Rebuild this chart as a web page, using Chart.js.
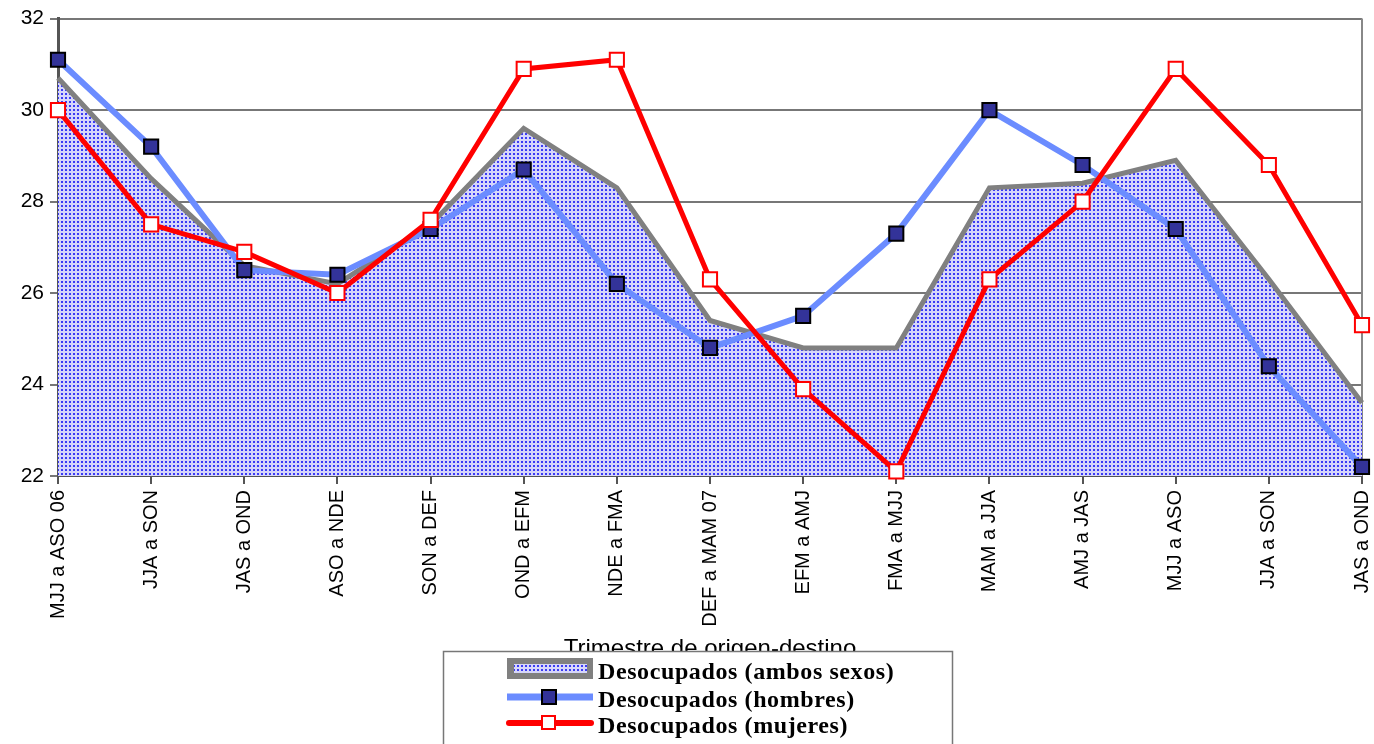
<!DOCTYPE html>
<html>
<head>
<meta charset="utf-8">
<script src="https://cdn.jsdelivr.net/npm/chart.js@4/dist/chart.umd.min.js"></script>
<style>
  html, body { margin: 0; padding: 0; background: #fff; }
  #wrap { width: 1374px; height: 744px; position: relative; }
</style>
</head>
<body>
<div id="wrap"><canvas id="chart-desocupados"></canvas></div>
<script>
'use strict';

const categories = [
  'MJJ a ASO 06', 'JJA a SON', 'JAS a OND', 'ASO a NDE', 'SON a DEF',
  'OND a EFM', 'NDE a FMA', 'DEF a MAM 07', 'EFM a AMJ', 'FMA a MJJ',
  'MAM a JJA', 'AMJ a JAS', 'MJJ a ASO', 'JJA a SON', 'JAS a OND'
];
const ambosSexos = [30.7, 28.5, 26.6, 26.2, 27.5, 29.6, 28.3, 25.4, 24.8, 24.8, 28.3, 28.4, 28.9, 26.3, 23.6];
const hombres    = [31.1, 29.2, 26.5, 26.4, 27.4, 28.7, 26.2, 24.8, 25.5, 27.3, 30.0, 28.8, 27.4, 24.4, 22.2];
const mujeres    = [30.0, 27.5, 26.9, 26.0, 27.6, 30.9, 31.1, 26.3, 23.9, 22.1, 26.3, 28.0, 30.9, 28.8, 25.3];
const yTicks     = [22, 24, 26, 28, 30, 32];

const seriesNames = ['Desocupados (ambos sexos)', 'Desocupados (hombres)', 'Desocupados (mujeres)'];
const axisTitle = 'Trimestre de origen-destino';

const SANS = "'Liberation Sans', Arial, sans-serif";

// dotted blue fill like the Excel pattern
function makePattern() {
  const c = document.createElement('canvas');
  c.width = 4; c.height = 4;
  const g = c.getContext('2d');
  g.fillStyle = '#d6d6fb';
  g.fillRect(0, 0, 4, 4);
  g.fillStyle = '#3b3bf5';
  g.fillRect(1, 1, 2, 2);
  return g.createPattern(c, 'repeat');
}
const dotPattern = makePattern();

const frameBox = {
  id: 'frameBox',
  beforeDatasetsDraw(chart) {
    const { ctx, chartArea: a } = chart;
    ctx.save();
    ctx.strokeStyle = '#888';
    ctx.lineWidth = 2;
    ctx.beginPath();
    ctx.moveTo(a.right, a.top);
    ctx.lineTo(a.right, a.bottom);
    ctx.stroke();
    ctx.restore();
  }
};

const legendBox = {
  id: 'legendBox',
  afterDraw(chart) {
    const ctx = chart.ctx;
    ctx.save();
    ctx.fillStyle = '#fff';
    ctx.fillRect(443, 651, 509, 110);
    ctx.strokeStyle = '#777';
    ctx.lineWidth = 1.5;
    ctx.strokeRect(443.5, 651.5, 509, 110);

    // ambos sexos swatch
    ctx.fillStyle = '#808080';
    ctx.fillRect(507, 658, 86, 21);
    ctx.fillStyle = dotPattern;
    ctx.fillRect(514, 664, 73, 9);

    // hombres
    ctx.strokeStyle = '#6b8cff';
    ctx.lineWidth = 7;
    ctx.beginPath(); ctx.moveTo(507, 697); ctx.lineTo(593, 697); ctx.stroke();
    ctx.fillStyle = '#333399';
    ctx.strokeStyle = '#000';
    ctx.lineWidth = 2;
    ctx.fillRect(542, 690, 14, 14);
    ctx.strokeRect(542, 690, 14, 14);

    // mujeres
    ctx.strokeStyle = '#ff0000';
    ctx.lineWidth = 6;
    ctx.lineCap = 'round';
    ctx.beginPath(); ctx.moveTo(509, 723); ctx.lineTo(591, 723); ctx.stroke();
    ctx.fillStyle = '#fff';
    ctx.lineWidth = 2;
    ctx.fillRect(542, 716, 13, 13);
    ctx.strokeRect(542, 716, 13, 13);

    ctx.fillStyle = '#000';
    ctx.font = "bold 24px 'Liberation Serif', 'Times New Roman', serif";
    ctx.letterSpacing = '0.6px';
    ctx.textBaseline = 'alphabetic';
    ctx.textAlign = 'left';
    ctx.fillText(seriesNames[0], 598, 679);
    ctx.fillText(seriesNames[1], 598, 707);
    ctx.fillText(seriesNames[2], 598, 733);
    ctx.restore();
  }
};

new Chart(document.getElementById('chart-desocupados').getContext('2d'), {
  type: 'line',
  data: {
    labels: categories,
    datasets: [
      {
        label: seriesNames[0],
        data: ambosSexos,
        order: 3,
        borderColor: '#808080',
        borderWidth: 5,
        backgroundColor: dotPattern,
        fill: 'start',
        pointRadius: 0,
        clip: false
      },
      {
        label: seriesNames[1],
        data: hombres,
        order: 2,
        borderColor: '#6b8cff',
        borderWidth: 6,
        pointStyle: 'rect',
        pointRadius: 10,
        pointBackgroundColor: '#333399',
        pointBorderColor: '#000',
        pointBorderWidth: 2,
        fill: false,
        clip: false
      },
      {
        label: seriesNames[2],
        data: mujeres,
        order: 1,
        borderColor: '#ff0000',
        borderWidth: 5,
        pointStyle: 'rect',
        pointRadius: 10,
        pointBackgroundColor: '#fff',
        pointBorderColor: '#ff0000',
        pointBorderWidth: 2,
        fill: false,
        clip: false
      }
    ]
  },
  options: {
    responsive: true,
    maintainAspectRatio: false,
    animation: false,
    events: [],
    layout: { padding: { top: 18, right: 12, left: 0, bottom: 0 } },
    elements: { line: { tension: 0 } },
    plugins: {
      legend: { display: false },
      tooltip: { enabled: false }
    },
    scales: {
      x: {
        type: 'category',
        offset: false,
        afterFit(scale) {
          scale.height = 268;
          scale.paddingLeft = 0;
          scale.paddingRight = 0;
        },
        grid: { display: true, drawOnChartArea: false, drawTicks: true, tickLength: 8, color: '#555', lineWidth: 2 },
        border: { display: true, color: '#555', width: 2 },
        ticks: {
          autoSkip: false, maxRotation: 90, minRotation: 90,
          color: '#000', padding: 6,
          font: { family: SANS, size: 20 }
        },
        title: {
          display: true, text: axisTitle, color: '#000',
          font: { family: SANS, size: 24 },
          padding: { top: 0, bottom: 80 }
        }
      },
      y: {
        min: yTicks[0],
        max: yTicks[yTicks.length - 1],
        afterFit(scale) { scale.width = 58; },
        afterBuildTicks(scale) { scale.ticks = yTicks.map(v => ({ value: v })); },
        grid: { color: '#777', lineWidth: 2, drawTicks: true, tickLength: 8 },
        border: { display: true, color: '#555', width: 3 },
        ticks: {
          color: '#000', padding: 6,
          font: { family: SANS, size: 21 }
        }
      }
    }
  },
  plugins: [frameBox, legendBox]
});
</script>
</body>
</html>
